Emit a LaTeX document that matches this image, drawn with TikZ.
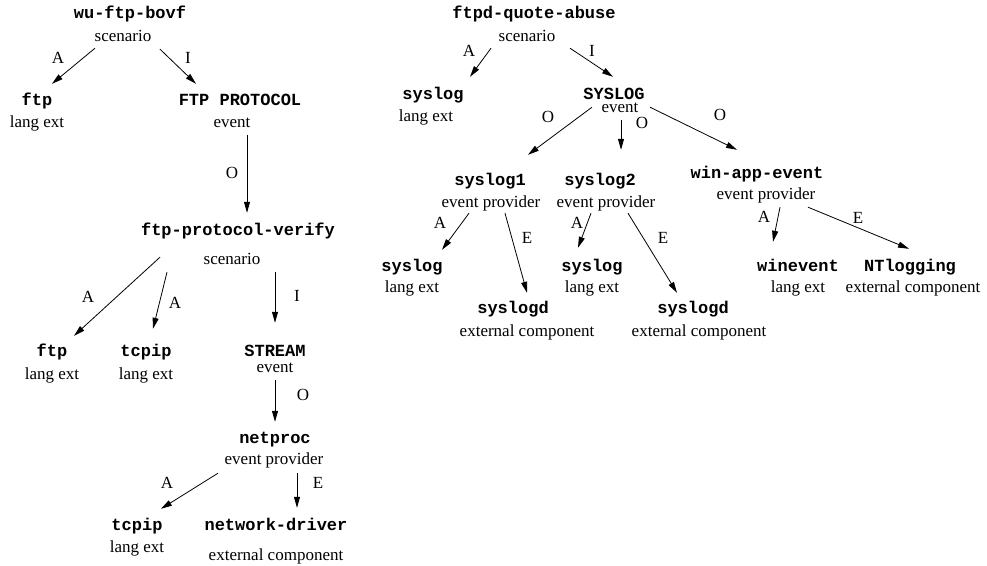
\documentclass[tikz,border=0pt]{standalone}
\usepackage{fontspec}
\setmainfont{Liberation Serif}
\setmonofont{Liberation Mono}
\usepackage{tikz}
\usetikzlibrary{arrows.meta}

\tikzset{
  ident/.style={font=\ttfamily\bfseries\fontsize{17}{20}\selectfont,inner sep=0pt,text height=10pt,text depth=3pt},
  kind/.style={font=\fontsize{17}{20}\selectfont,inner sep=0pt,text height=12pt,text depth=4pt},
  lbl/.style={font=\fontsize{17}{20}\selectfont,inner sep=0pt},
  arr/.style={-{Triangle[length=11pt,width=6pt]},line width=0.8pt}
}

\begin{document}
\begin{tikzpicture}[x=1pt,y=-1pt]
  \useasboundingbox (0,0) rectangle (987,565);

  % left tree
  \node[ident] (wu)   at (130,15)  {wu-ftp-bovf};
  \node[kind]  (wuk)  at (123,37)  {scenario};
  \node[ident] (ftpa) at (37,102)  {ftp};
  \node[kind]  (ftpak) at (37,123) {lang ext};
  \node[ident] (fpr)  at (240,102) {FTP PROTOCOL};
  \node[kind]  (fprk) at (232,123) {event};
  \node[ident] (fpv)  at (238,232) {ftp-protocol-verify};
  \node[kind]  (fpvk) at (232,260) {scenario};
  \node[ident] (ftpb) at (52,353)  {ftp};
  \node[kind]  (ftpbk) at (52,375) {lang ext};
  \node[ident] (tcpa) at (146,353) {tcpip};
  \node[kind]  (tcpak) at (146,375) {lang ext};
  \node[ident] (strm) at (275,353) {STREAM};
  \node[kind]  (strmk) at (275,368) {event};
  \node[ident] (netp) at (275,440) {netproc};
  \node[kind]  (netpk) at (274,460) {event provider};
  \node[ident] (tcpb) at (137,527) {tcpip};
  \node[kind]  (tcpbk) at (137,548) {lang ext};
  \node[ident] (ndrv) at (276,527) {network-driver};
  \node[kind]  (ndrvk) at (276,556) {external component};

  \draw[arr] ([shift={(-28,3)}]wuk.south) -- ([shift={(15,-11.5)}]ftpa.north);
  \draw[arr] ([shift={(37,4)}]wuk.south) -- ([shift={(-44,-11.5)}]fpr.north);
  \draw[arr] ([shift={(15,4)}]fprk.south) -- ([shift={(9,-12.5)}]fpv.north);
  \draw[arr] ([shift={(-72,-11)}]fpvk.south) -- ([shift={(22,-10.5)}]ftpb.north);
  \draw[arr] ([shift={(-65,4)}]fpvk.south) -- ([shift={(7,-17.5)}]tcpa.north);
  \draw[arr] ([shift={(43,4)}]fpvk.south) -- ([shift={(0,-23.5)}]strm.north);
  \draw[arr] ([shift={(0,4)}]strmk.south) -- ([shift={(0,-11.5)}]netp.north);
  \draw[arr] ([shift={(-56,5)}]netpk.south) -- ([shift={(24,-11.5)}]tcpb.north);
  \draw[arr] ([shift={(23,5)}]netpk.south) -- ([shift={(21,-12.5)}]ndrv.north);

  \node[lbl] (l1) at (58,58)   {A};
  \node[lbl] (l2) at (188,58)  {I};
  \node[lbl] (l3) at (232,173) {O};
  \node[lbl] (l4) at (88,297)  {A};
  \node[lbl] (l5) at (175,303) {A};
  \node[lbl] (l6) at (297,296) {I};
  \node[lbl] (l7) at (303,395) {O};
  \node[lbl] (l8) at (167,483) {A};
  \node[lbl] (l9) at (318,483) {E};

  % right tree
  \node[ident] (fqa)  at (534,15)  {ftpd-quote-abuse};
  \node[kind]  (fqak) at (527,37)  {scenario};
  \node[ident] (sla)  at (433,96)  {syslog};
  \node[kind]  (slak) at (426,117) {lang ext};
  \node[ident] (slev) at (614,96)  {SYSLOG};
  \node[kind,text height=9pt] (slevk) at (620,110) {event};
  \node[ident] (sl1)  at (490,182) {syslog1};
  \node[kind]  (sl1k) at (491,203) {event provider};
  \node[ident] (sl2)  at (600,182) {syslog2};
  \node[kind]  (sl2k) at (606,203) {event provider};
  \node[ident] (wae)  at (757,175) {win-app-event};
  \node[kind]  (waek) at (766,195) {event provider};
  \node[ident] (slb)  at (412,268) {syslog};
  \node[kind]  (slbk) at (412,288) {lang ext};
  \node[ident] (sdb)  at (513,310) {syslogd};
  \node[kind]  (sdbk) at (527,332) {external component};
  \node[ident] (slc)  at (592,268) {syslog};
  \node[kind]  (slck) at (592,288) {lang ext};
  \node[ident] (sdc)  at (693,310) {syslogd};
  \node[kind]  (sdck) at (699,332) {external component};
  \node[ident] (wev)  at (798,268) {winevent};
  \node[kind]  (wevk) at (798,288) {lang ext};
  \node[ident] (ntl)  at (910,268) {NTlogging};
  \node[kind]  (ntlk) at (913,288) {external component};

  \draw[arr] ([shift={(-36,3)}]fqak.south) -- ([shift={(37,-12.5)}]sla.north);
  \draw[arr] ([shift={(43,3)}]fqak.south) -- ([shift={(-1,-12.5)}]slev.north);
  \draw[arr] ([shift={(-28,-9.5)}]slevk.south) -- ([shift={(38,-20.5)}]sl1.north);
  \draw[arr] ([shift={(1,3.5)}]slevk.south) -- ([shift={(21,-25.5)}]sl2.north);
  \draw[arr] ([shift={(30,-9.5)}]slevk.south) -- ([shift={(-20,-18.5)}]wae.north);
  \draw[arr] ([shift={(-22,2)}]sl1k.south) -- ([shift={(30,-11.5)}]slb.north);
  \draw[arr] ([shift={(14,2)}]sl1k.south) -- ([shift={(14,-10.5)}]sdb.north);
  \draw[arr] ([shift={(-15,2)}]sl2k.south) -- ([shift={(-14,-13.5)}]slc.north);
  \draw[arr] ([shift={(22,2)}]sl2k.south) -- ([shift={(-16,-10.5)}]sdc.north);
  \draw[arr] ([shift={(14,4)}]waek.south) -- ([shift={(-25,-19.5)}]wev.north);
  \draw[arr] ([shift={(42,4)}]waek.south) -- ([shift={(-1,-12.5)}]ntl.north);

  \node[lbl] (r1)  at (469,51)  {A};
  \node[lbl] (r2)  at (592,51)  {I};
  \node[lbl] (r3)  at (548,117) {O};
  \node[lbl] (r4)  at (642,123) {O};
  \node[lbl] (r5)  at (720,115) {O};
  \node[lbl] (r6)  at (440,223) {A};
  \node[lbl] (r7)  at (527,238) {E};
  \node[lbl] (r8)  at (577,223) {A};
  \node[lbl] (r9)  at (663,238) {E};
  \node[lbl] (r10) at (764,217) {A};
  \node[lbl] (r11) at (858,218) {E};
\end{tikzpicture}
\end{document}
